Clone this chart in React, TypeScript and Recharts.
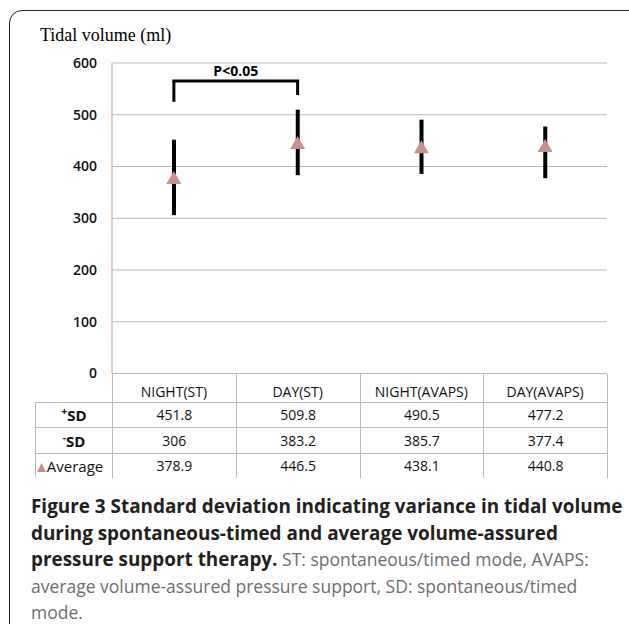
import React from 'react';
import {
  Bar,
  CartesianGrid,
  ComposedChart,
  ReferenceLine,
  Scatter,
  XAxis,
  YAxis,
} from 'recharts';

const categories = ['NIGHT(ST)', 'DAY(ST)', 'NIGHT(AVAPS)', 'DAY(AVAPS)'];
const plusSD = [451.8, 509.8, 490.5, 477.2];
const minusSD = [306, 383.2, 385.7, 377.4];
const average = [378.9, 446.5, 438.1, 440.8];
const yTicks = [0, 100, 200, 300, 400, 500, 600];

// significance bracket between the two ST groups
const bracketTop = 565;
const bracketLeftEnd = 525;
const bracketRightEnd = 538;

const rows = categories.map((name, i) => ({
  name,
  range: [minusSD[i], plusSD[i]],
  avg: average[i],
}));

const PLOT_LEFT = 112;
const PLOT_RIGHT = 607;
const PLOT_TOP = 63;
const PLOT_BOTTOM = 373.5;
const CHART_W = 629;
const CHART_H = 480;
const Y_AXIS_W = 60;
const X_AXIS_H = 28;
const COL_W = (PLOT_RIGHT - PLOT_LEFT) / categories.length;
const LABEL_LEFT = 35;
const ROW_H = 25.5;
const GRID = '#b9b9b9';
const PINK = '#c9918e';
const SANS = '"Open Sans", sans-serif';

function Triangle(props: any) {
  const { cx, cy } = props;
  if (cx == null || cy == null) return null;
  const w = 15;
  const h = 13;
  return (
    <polygon
      points={`${cx - w / 2},${cy + h / 2} ${cx + w / 2},${cy + h / 2} ${cx},${cy - h / 2}`}
      fill={PINK}
    />
  );
}

function TableRows() {
  const tableRows = [
    { label: <span style={{ fontWeight: 700 }}><sup style={{ fontSize: 10 }}>+</sup>SD</span>, values: plusSD },
    { label: <span style={{ fontWeight: 700 }}><sup style={{ fontSize: 10 }}>-</sup>SD</span>, values: minusSD },
    {
      label: (
        <span>
          <svg width="9" height="9" style={{ marginRight: 1, marginLeft: -8 }}>
            <polygon points="0,9 9,9 4.5,0" fill={PINK} />
          </svg>
          Average
        </span>
      ),
      values: average,
    },
  ];
  const cellBase: React.CSSProperties = {
    position: 'absolute',
    height: ROW_H,
    boxSizing: 'border-box',
    display: 'flex',
    alignItems: 'center',
    justifyContent: 'center',
    fontFamily: SANS,
    fontSize: 14,
    color: '#111',
    borderLeft: `1px solid ${GRID}`,
  };
  const tableTop = PLOT_BOTTOM + 28;
  return (
    <>
      {/* header row verticals */}
      {Array.from({ length: categories.length + 1 }).map((_, i) => (
        <div
          key={'v' + i}
          style={{
            position: 'absolute',
            left: PLOT_LEFT + i * COL_W,
            top: PLOT_BOTTOM,
            width: 1,
            height: tableTop - PLOT_BOTTOM,
            background: GRID,
          }}
        />
      ))}
      {tableRows.map((row, r) => (
        <React.Fragment key={r}>
          <div
            style={{
              ...cellBase,
              left: LABEL_LEFT,
              top: tableTop + r * ROW_H,
              width: PLOT_LEFT - LABEL_LEFT,
              borderTop: `1px solid ${GRID}`,
              fontSize: 15,
            }}
          >
            {row.label}
          </div>
          {row.values.map((v, i) => (
            <div
              key={i}
              style={{
                ...cellBase,
                left: PLOT_LEFT + i * COL_W,
                top: tableTop + r * ROW_H,
                width: COL_W + (i === categories.length - 1 ? 1 : 0),
                borderTop: `1px solid ${GRID}`,
                borderRight: i === categories.length - 1 ? `1px solid ${GRID}` : undefined,
              }}
            >
              {v}
            </div>
          ))}
        </React.Fragment>
      ))}
    </>
  );
}

export default function App() {
  const bold: React.CSSProperties = { fontWeight: 700, color: '#231f20', fontSize: 18.9 };
  return (
    <div
      style={{
        position: 'absolute',
        left: 0,
        top: 0,
        width: 629,
        height: 624,
        overflow: 'hidden',
        background: '#fff',
      }}
    >
      <div
        style={{
          position: 'absolute',
          left: 9,
          top: 10,
          width: 720,
          height: 720,
          border: '1.5px solid #222',
          borderRadius: 13,
          boxSizing: 'border-box',
        }}
      />
      <div
        style={{
          position: 'absolute',
          left: 40,
          top: 25,
          fontFamily: '"Liberation Serif", serif',
          fontSize: 18,
          color: '#000',
        }}
      >
        Tidal volume (ml)
      </div>
      <div style={{ position: 'absolute', left: 0, top: 0 }}>
        <ComposedChart
          width={CHART_W}
          height={CHART_H}
          data={rows}
          margin={{
            top: PLOT_TOP,
            right: CHART_W - PLOT_RIGHT,
            left: PLOT_LEFT - Y_AXIS_W,
            bottom: CHART_H - PLOT_BOTTOM - X_AXIS_H,
          }}
        >
          <CartesianGrid vertical={false} stroke={GRID} strokeWidth={1.2} />
          <XAxis
            dataKey="name"
            height={X_AXIS_H}
            axisLine={false}
            tickLine={false}
            tickSize={0}
            tickMargin={14}
            tick={{ fill: '#111', fontSize: 14, fontFamily: SANS }}
          />
          <YAxis
            width={Y_AXIS_W}
            domain={[0, 600]}
            ticks={yTicks}
            axisLine={{ stroke: GRID, strokeWidth: 1.2 }}
            tickLine={false}
            tickSize={0}
            tickMargin={15}
            tick={{ fill: '#111', fontSize: 14, fontWeight: 600, fontFamily: SANS }}
          />
          <Bar dataKey="range" fill="#000" barSize={4} isAnimationActive={false} />
          <Scatter dataKey="avg" shape={Triangle} fill={PINK} isAnimationActive={false} />
          <ReferenceLine
            segment={[
              { x: categories[0], y: bracketTop },
              { x: categories[1], y: bracketTop },
            ]}
            stroke="#000"
            strokeWidth={3}
            strokeLinecap="square"
            label={{
              value: 'P<0.05',
              position: 'top',
              fill: '#000',
              fontSize: 14,
              fontWeight: 700,
              fontFamily: SANS,
            }}
          />
          <ReferenceLine
            segment={[
              { x: categories[0], y: bracketTop },
              { x: categories[0], y: bracketLeftEnd },
            ]}
            stroke="#000"
            strokeWidth={3}
          />
          <ReferenceLine
            segment={[
              { x: categories[1], y: bracketTop },
              { x: categories[1], y: bracketRightEnd },
            ]}
            stroke="#000"
            strokeWidth={3}
          />
        </ComposedChart>
      </div>
      <TableRows />
      <div
        style={{
          position: 'absolute',
          left: 31,
          top: 493,
          width: 600,
          fontFamily: SANS,
          fontSize: 17.5,
          lineHeight: '26.5px',
          color: '#6d6e71',
          whiteSpace: 'nowrap',
        }}
      >
        <div style={bold}>Figure 3 Standard deviation indicating variance in tidal volume</div>
        <div style={bold}>during spontaneous-timed and average volume-assured</div>
        <div>
          <span style={bold}>pressure support therapy.</span> ST: spontaneous/timed mode, AVAPS:
        </div>
        <div>average volume-assured pressure support, SD: spontaneous/timed</div>
        <div>mode.</div>
      </div>
    </div>
  );
}
